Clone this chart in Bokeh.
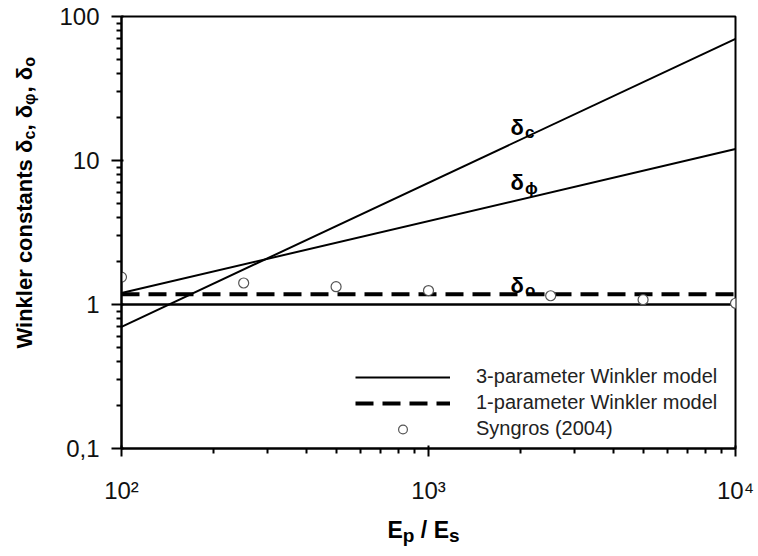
from math import pi
from bokeh.plotting import figure
from bokeh.layouts import column, row
from bokeh.models import Label, Legend, LegendItem, FixedTicker, Range1d
from bokeh.embed import file_html
from bokeh.resources import INLINE

# ---------------- data ----------------
ratio_line = [100, 10000]            # Ep/Es end points of the model lines
delta_c = [0.7, 70]
delta_phi = [1.2, 12]
delta_o = [1.0, 1.0]
one_param = [1.18, 1.18]
syngros_x = [100, 250, 500, 1000, 2500, 5000, 10000]
syngros_y = [1.55, 1.41, 1.33, 1.25, 1.15, 1.08, 1.02]

x_ticks = [100, 1000, 10000]
x_tick_labels = ["10²", "10³", "10⁴"]
y_ticks = [0.1, 1, 10, 100]
y_tick_labels = ["0,1", "1", "10", "100"]
legend_labels = ["3-parameter Winkler model", "1-parameter Winkler model", "Syngros (2004)"]

# ---------------- layout ----------------
W, H = 758, 556
YL_W = 50            # strip holding the y-axis title
XL_H = 40            # strip holding the x-axis title
PW, PH = W - YL_W, H - XL_H
FL, FR, FT, FB = 121, 735, 16, 448   # frame edges in page pixels
FONT = "Liberation Sans"
NB = "\u00a0"

p = figure(width=PW, height=PH, x_axis_type="log", y_axis_type="log",
           x_range=Range1d(100, 10000), y_range=Range1d(0.1, 100),
           output_backend="svg", toolbar_location=None,
           min_border_left=FL - YL_W, min_border_right=W - FR,
           min_border_top=FT, min_border_bottom=PH - FB)
p.xgrid.visible = False
p.ygrid.visible = False
p.outline_line_color = "black"
p.outline_line_width = 2

minor_x = [m * 10 ** k for k in (2, 3) for m in range(2, 10)]
minor_y = [m * 10.0 ** k for k in (-1, 0, 1) for m in range(2, 10)]
p.xaxis[0].ticker = FixedTicker(ticks=x_ticks, minor_ticks=minor_x)
p.yaxis[0].ticker = FixedTicker(ticks=y_ticks, minor_ticks=minor_y)
p.xaxis[0].major_label_overrides = {t: l for t, l in zip(x_ticks, x_tick_labels)}
p.yaxis[0].major_label_overrides = {t: l for t, l in zip(y_ticks, y_tick_labels)}

for ax in (p.xaxis[0], p.yaxis[0]):
    ax.axis_line_color = "black"
    ax.axis_line_width = 2
    ax.major_tick_line_color = "black"
    ax.major_tick_line_width = 2
    ax.minor_tick_line_color = "black"
    ax.minor_tick_line_width = 2
    ax.major_label_text_font = FONT
    ax.major_label_text_font_size = "24px"
    ax.major_label_text_color = "#111111"

p.yaxis[0].major_tick_out = 10
p.yaxis[0].major_tick_in = 2
p.yaxis[0].minor_tick_out = 5
p.yaxis[0].minor_tick_in = 0
p.yaxis[0].major_label_standoff = 12

p.xaxis[0].major_tick_out = 8
p.xaxis[0].major_tick_in = 3
p.xaxis[0].minor_tick_out = 5
p.xaxis[0].minor_tick_in = 0
p.xaxis[0].major_label_standoff = 20

# ---------------- glyphs ----------------
r_c = p.line(ratio_line, delta_c, line_color="black", line_width=2)
p.line(ratio_line, delta_phi, line_color="black", line_width=2)
p.line(ratio_line, delta_o, line_color="black", line_width=2.5)
r_d = p.line(ratio_line, one_param, line_color="black", line_width=4, line_dash="18 9")
r_s = p.scatter(syngros_x, syngros_y, marker="circle", size=10,
                fill_color="white", line_color="#555555", line_width=1.2)

legend = Legend(items=[LegendItem(label=legend_labels[0], renderers=[r_c]),
                       LegendItem(label=legend_labels[1], renderers=[r_d]),
                       LegendItem(label=legend_labels[2], renderers=[r_s])],
                location=(234, 8), glyph_width=95, glyph_height=22, label_height=22,
                label_standoff=26, spacing=3, padding=0, margin=0,
                border_line_alpha=0, background_fill_alpha=0,
                label_text_font=FONT, label_text_font_size="20px",
                label_text_color="#222222")
p.add_layout(legend)

# ---------------- manual texts with subscripts ----------------
def lab(fig, x, y, text, size, angle=0, bold=True):
    fig.add_layout(Label(x=x, y=y, x_units="screen", y_units="screen", text=text,
                         angle=angle, text_font=FONT,
                         text_font_style="bold" if bold else "normal",
                         text_font_size=f"{size}px", text_color="black",
                         text_align="left", text_baseline="alphabetic"))

BW = {"W": .944, "i": .278, "n": .611, "k": .556, "l": .278, "e": .556, "r": .389,
      " ": .278, NB: .278, "c": .556, "o": .611, "s": .556, "t": .333, "a": .556,
      ",": .278, "δ": .611, "φ": .78, "ϕ": .78, "p": .611, "E": .667, "/": .278}

def width(s, size):
    return sum(BW.get(ch, .6) for ch in s) * size

def strip(w, h):
    f = figure(width=w, height=h, output_backend="svg", toolbar_location=None,
               x_axis_location=None, y_axis_location=None,
               min_border=0, min_border_left=0, min_border_right=0,
               min_border_top=0, min_border_bottom=0)
    f.xgrid.visible = False
    f.ygrid.visible = False
    f.outline_line_color = None
    return f

# y-axis title (rotated) in its own strip; its frame is aligned with the main frame
fy = strip(YL_W, PH)
pieces = [("Winkler constants δ", 22, 0), ("c", 16, 5), ("," + NB + "δ", 22, 0),
          ("φ", 16, 5), ("," + NB + "δ", 22, 0), ("o", 16, 5)]
pos = FB - 348
for txt, sz, off in pieces:
    lab(fy, 24 + off, pos, txt, sz, angle=pi / 2)
    pos += width(txt, sz)

# x-axis title in its own strip
fx = strip(W, XL_H)
pieces = [("E", 23, 0), ("p", 19, 6), (NB + "/" + NB, 23, 0), ("E", 23, 0), ("s", 19, 6)]
pos = 387
for txt, sz, off in pieces:
    lab(fx, pos, H - 538 - off + 9, txt, sz)
    pos += width(txt, sz)

# curve annotations inside the plot frame
for base_y, sub, sub_off in [(127, "c", 5), (182, "ϕ", 6), (285, "o", 5)]:
    lab(p, 510 - FL, FB - base_y, "δ", 22)
    lab(p, 510 - FL + width("δ", 22) + 1, FB - base_y - sub_off, sub, 17)

layout = column(row(fy, p, spacing=0), fx, spacing=0)
open("out.html", "w").write(file_html(layout, INLINE))
